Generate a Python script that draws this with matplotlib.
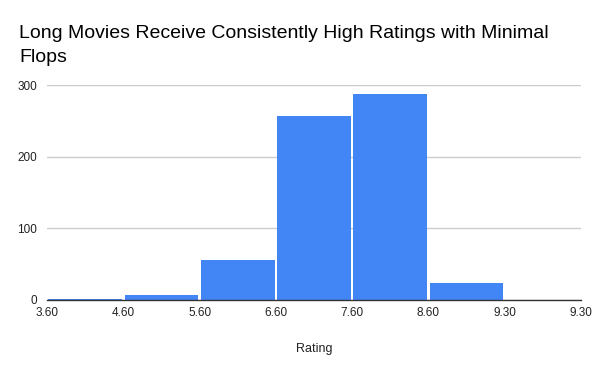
import matplotlib
matplotlib.use("Agg")
import matplotlib.pyplot as plt
import numpy as np

plt.rcParams['font.family'] = ['Liberation Sans', 'DejaVu Sans']

title_lines = ["Long Movies Receive Consistently High Ratings with Minimal", "Flops"]
bin_labels = ["3.60", "4.60", "5.60", "6.60", "7.60", "8.60", "9.30", "9.30"]
counts = [2, 7, 56, 257, 288, 24, 0]
x_label = "Rating"
y_ticks = [0, 100, 200, 300]

fig = plt.figure(figsize=(6, 3.71), dpi=100)
ax = fig.add_axes([47/600, 1-300/371, (581-47)/600, (300-85)/371])

pos = np.arange(len(counts)) + 0.5
ax.bar(pos, counts, width=0.965, align='center', color='#4285F4',
       linewidth=0, zorder=3)

ax.set_xlim(0, len(counts))
ax.set_ylim(0, 300)
ax.set_xticks(np.arange(len(bin_labels)))
ax.set_xticklabels(bin_labels)
ax.set_yticks(y_ticks)
ax.set_yticklabels([str(v) for v in y_ticks])
ax.tick_params(axis='both', length=0, labelsize=8.5, colors='#222222')
ax.tick_params(axis='x', pad=5)
ax.tick_params(axis='y', pad=7)
ax.grid(axis='y', color='#cccccc', linewidth=1, zorder=0)
for s in ['top', 'right', 'left']:
    ax.spines[s].set_visible(False)
ax.spines['bottom'].set_color('#333333')
ax.spines['bottom'].set_linewidth(1.0)
ax.spines['bottom'].set_zorder(4)

ax.set_xlabel(x_label, fontsize=9, color='#222222', labelpad=17)

for i, line in enumerate(title_lines):
    fig.text(19/600, 1-(38+24*i)/371, line, fontsize=14, color='#000000',
             ha='left', va='baseline')

fig.savefig("out.png", dpi=100)
